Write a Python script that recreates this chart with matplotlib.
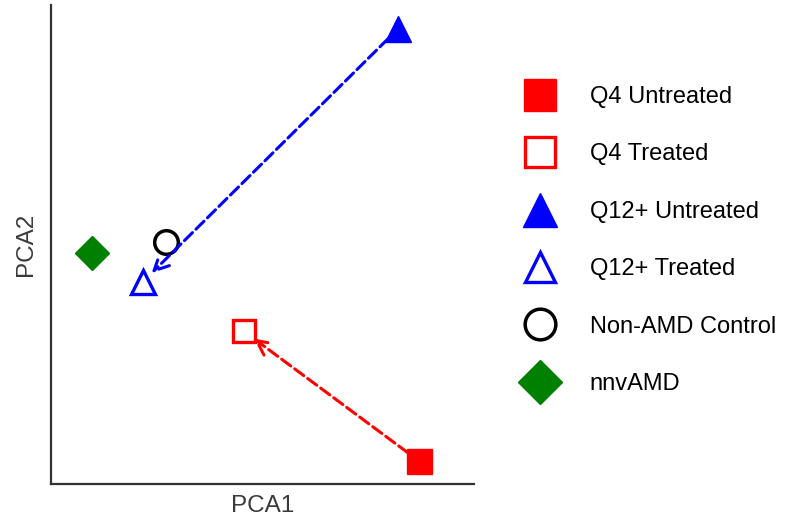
import matplotlib.pyplot as plt

plt.rcParams['font.family'] = ['Liberation Sans', 'DejaVu Sans']

# PCA scores (arbitrary units)
labels = ['Q4 Untreated', 'Q4 Treated', 'Q12+ Untreated', 'Q12+ Treated',
          'Non-AMD Control', 'nnvAMD']
pca1 = [8.70, 4.56, 8.20, 2.17, 2.72, 0.97]
pca2 = [0.48, 3.19, 9.50, 4.22, 5.05, 4.82]

# untreated -> treated shifts
shifts = [(0, 1), (2, 3)]

styles = [
    dict(marker='s', ms=18, mfc='#ff0000', mec='#ff0000', mew=1),
    dict(marker='s', ms=16.5, mfc='white', mec='#ff0000', mew=2.4),
    dict(marker='^', ms=19, mfc='#0000ff', mec='#0000ff', mew=1),
    dict(marker='^', ms=17, mfc='white', mec='#0000ff', mew=2.4),
    dict(marker='o', ms=17, mfc='white', mec='black', mew=2.5),
    dict(marker='D', ms=17.5, mfc='#008000', mec='#008000', mew=1),
]
arrow_colors = ['#ff0000', '#0000ff']

fig = plt.figure(figsize=(7.94, 5.23), dpi=100)
ax = fig.add_axes([0.0642, 0.0746, 0.5328, 0.9157])

for (a, b), c in zip(shifts, arrow_colors):
    ax.annotate('', xy=(pca1[b], pca2[b]), xytext=(pca1[a], pca2[a]),
                arrowprops=dict(arrowstyle='->', linestyle='--', color=c, lw=2.2,
                                shrinkA=10, shrinkB=9, mutation_scale=26))

for i, lab in enumerate(labels):
    ax.plot(pca1[i], pca2[i], linestyle='None', label=lab, **styles[i])

ax.set_xlim(0, 10)
ax.set_ylim(0, 10)
ax.set_xticks([])
ax.set_yticks([])
for s in ['top', 'right']:
    ax.spines[s].set_visible(False)
for s in ['left', 'bottom']:
    ax.spines[s].set_color('#333333')
    ax.spines[s].set_linewidth(1.6)
ax.set_xlabel('PCA1', fontsize=17.5, color='#3a3a3a', labelpad=8)
ax.set_ylabel('PCA2', fontsize=17.5, color='#3a3a3a', labelpad=10)

fig.legend(loc='center left', bbox_to_anchor=(0.631, 0.540), frameon=False,
           fontsize=17, markerscale=1.3, labelspacing=1.5, handletextpad=1.35,
           handlelength=1.5, numpoints=1)

fig.savefig('out.png', dpi=100)
